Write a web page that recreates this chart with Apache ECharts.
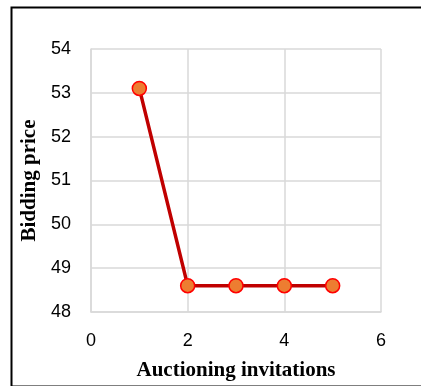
<!DOCTYPE html>
<html>
<head>
<meta charset="utf-8">
<script src="https://cdn.jsdelivr.net/npm/echarts@6/dist/echarts.min.js"></script>
<style>
  html, body { margin: 0; padding: 0; background: #fff; }
  #chart { width: 421px; height: 386px; }
</style>
</head>
<body>
<div id="chart"></div>
<script>
// Bidding price after each round of auctioning invitations
const invitations = [1, 2, 3, 4, 5];
const biddingPrice = [53.1, 48.6, 48.6, 48.6, 48.6];

const xTicks = { min: 0, max: 6, interval: 2 };
const yTicks = { min: 48, max: 54, interval: 1 };

const chart = echarts.init(document.getElementById('chart'), null, { renderer: 'canvas' });

const gridColor = '#d9d9d9';
const tickFont = { fontFamily: 'Liberation Sans, Arial, sans-serif', fontSize: 18, color: '#000' };
const titleFont = { fontFamily: 'Liberation Serif, Times New Roman, serif', fontSize: 21, fontWeight: 'bold', color: '#000' };

chart.setOption({
  animation: false,
  backgroundColor: '#fff',
  grid: { left: 91, top: 49, right: 40, bottom: 74, containLabel: false, outerBoundsMode: 'none' },
  xAxis: {
    type: 'value',
    min: xTicks.min, max: xTicks.max, interval: xTicks.interval,
    name: 'Auctioning invitations',
    nameLocation: 'middle',
    nameGap: 48,
    nameTextStyle: titleFont,
    axisLine: { show: true, lineStyle: { color: gridColor, width: 1.5 } },
    axisTick: { show: false },
    axisLabel: Object.assign({ margin: 20 }, tickFont),
    splitLine: { show: true, lineStyle: { color: gridColor, width: 1.5 } }
  },
  yAxis: {
    type: 'value',
    min: yTicks.min, max: yTicks.max, interval: yTicks.interval,
    name: 'Bidding price',
    nameLocation: 'middle',
    nameGap: 45,
    nameTextStyle: titleFont,
    axisLine: { show: true, lineStyle: { color: gridColor, width: 1.5 } },
    axisTick: { show: false },
    axisLabel: Object.assign({ margin: 20 }, tickFont),
    splitLine: { show: true, lineStyle: { color: gridColor, width: 1.5 } }
  },
  series: [{
    type: 'line',
    data: invitations.map((x, i) => [x, biddingPrice[i]]),
    lineStyle: { color: '#c00000', width: 3.5 },
    symbol: 'circle',
    symbolSize: 14,
    itemStyle: { color: '#ed7d31', borderColor: '#ff0000', borderWidth: 1.5 },
    z: 3
  }],
  graphic: [{
    type: 'rect',
    left: 9, top: 5,
    shape: { x: 0, y: 0, width: 420, height: 379 },
    style: { fill: 'none', stroke: '#000', lineWidth: 2 },
    silent: true
  }]
});
</script>
</body>
</html>
